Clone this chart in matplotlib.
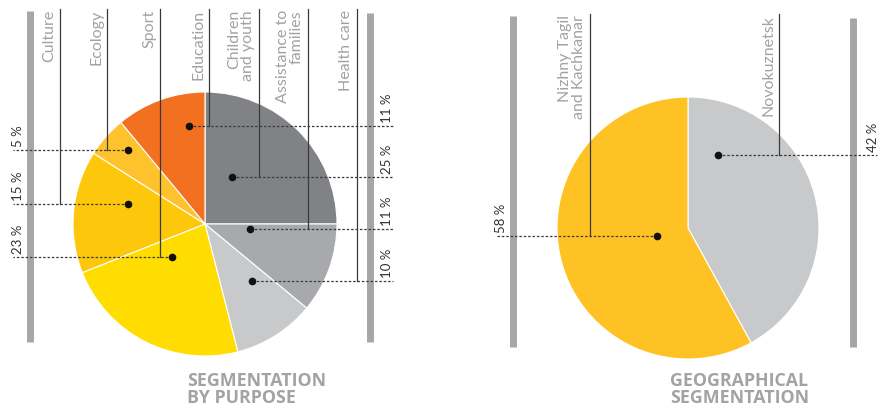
import matplotlib.pyplot as plt

# purpose split, clockwise from 12 o'clock
purpose = ["Children\nand youth", "Assistance to\nfamilies", "Health care",
           "Sport", "Culture", "Ecology", "Education"]
purpose_share = [25, 11, 10, 23, 15, 5, 11]
purpose_colors = ["#808285", "#a7a9ac", "#c8c9cb", "#ffdd00", "#fdc70c", "#fec22c", "#f37021"]

# geographical split, clockwise from 12 o'clock
regions = ["Novokuznetsk", "Nizhny Tagil\nand Kachkanar"]
region_share = [42, 58]
region_colors = ["#c8c9cb", "#fec224"]

W, H = 889, 410
fig = plt.figure(figsize=(W / 100, H / 100), dpi=100)
ax = fig.add_axes([0, 0, 1, 1])

# y axis runs downwards, so counterclock=True turns clockwise on screen
ax.pie(purpose_share, colors=purpose_colors, center=(205, 225), radius=132,
       startangle=-90, counterclock=True,
       wedgeprops=dict(edgecolor="white", linewidth=0.8))
ax.pie(region_share, colors=region_colors, center=(688, 229), radius=131,
       startangle=-90, counterclock=True,
       wedgeprops=dict(edgecolor="white", linewidth=0.8))

ax.set_xlim(0, W)
ax.set_ylim(H, 0)
ax.set_aspect("equal")
ax.axis("off")

bar_c = "#a5a6a8"
lab_c = "#a2a2a2"
line_c = "#3a3a3a"
pct_c = "#333333"
lab_font = dict(family="Lato", size=11.5, color=lab_c)
pct_font = dict(family="Lato", size=9.5, color=pct_c)

# side bars
for x, y0, y1 in [(30, 12, 343), (370, 14, 343), (513, 17, 348), (853, 19, 348)]:
    ax.plot([x, x], [y0, y1], color=bar_c, lw=5, solid_capstyle="butt")


def callout(name, share, line_x, dot, end_x, top, pct_x):
    dx, dy = dot
    ax.text(line_x - 4, top, name, rotation=90, ha="right", va="top",
            multialignment="right", linespacing=1.0, **lab_font)
    ax.plot([line_x, line_x], [top, dy], color=line_c, lw=0.9)
    ax.plot([dx, end_x], [dy, dy], color=line_c, lw=0.9, ls=(0, (2, 1.5)))
    ax.plot(dx, dy, "o", color="#111111", ms=4.5)
    ax.text(pct_x, dy - 4, f"{share} %", rotation=90, ha="center", va="bottom", **pct_font)


# leader layout: line x, dot, far end of dotted line, percent x
purpose_layout = {
    "Children\nand youth": (259, (232, 178), 393, 387),
    "Assistance to\nfamilies": (308, (250, 230), 393, 387),
    "Health care": (357, (252, 282), 393, 387),
    "Sport": (160, (172, 258), 13, 18),
    "Culture": (60, (128, 205), 13, 18),
    "Ecology": (107, (128, 151), 13, 18),
    "Education": (209, (189, 127), 393, 387),
}
for name, share in zip(purpose, purpose_share):
    lx, dot, ex, px = purpose_layout[name]
    callout(name, share, lx, dot, ex, 10, px)

region_layout = {
    "Novokuznetsk": (779, (718, 156), 877, 873),
    "Nizhny Tagil\nand Kachkanar": (590, (657, 237), 497, 501),
}
for name, share in zip(regions, region_share):
    lx, dot, ex, px = region_layout[name]
    callout(name, share, lx, dot, ex, 15, px)

title_font = dict(family="Open Sans", weight="bold", size=12.8, color="#a3a3a3",
                  ha="left", va="top", linespacing=0.95)
ax.text(187, 372, "SEGMENTATION\nBY PURPOSE", **title_font)
ax.text(670, 372, "GEOGRAPHICAL\nSEGMENTATION", **title_font)

fig.savefig("out.png", dpi=100)
